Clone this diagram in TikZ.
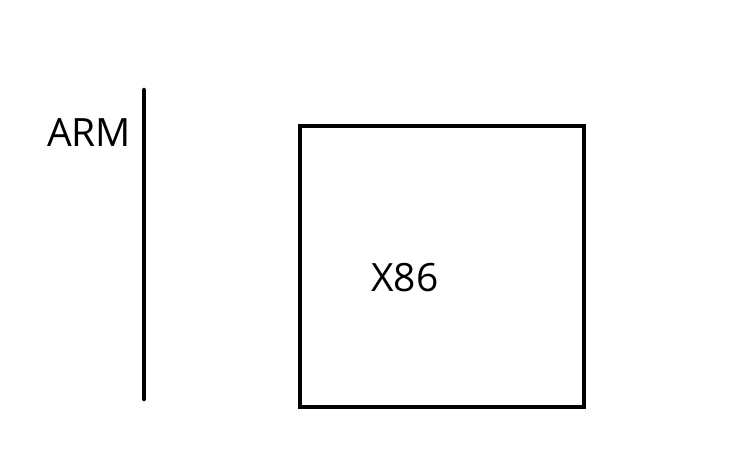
\documentclass[tikz,border=0pt]{standalone}
\usepackage{fontspec}
\setmainfont{Open Sans}

\begin{document}
\begin{tikzpicture}[x=1pt,y=-1pt]
			\useasboundingbox (0,0) rectangle (754,470);
			\draw[line width=4.5pt, line cap=round](144,90) -- (144,399);
			\draw[line width=4.5pt](300,126) rectangle (584,407);
			\node[font=\fontsize{39}{41}\selectfont, inner sep=0pt](arm) at (89,133){ARM};
			\node[font=\fontsize{39}{41}\selectfont, inner sep=0pt](xes) at (405,278){X86};
		\end{tikzpicture}
\end{document}
